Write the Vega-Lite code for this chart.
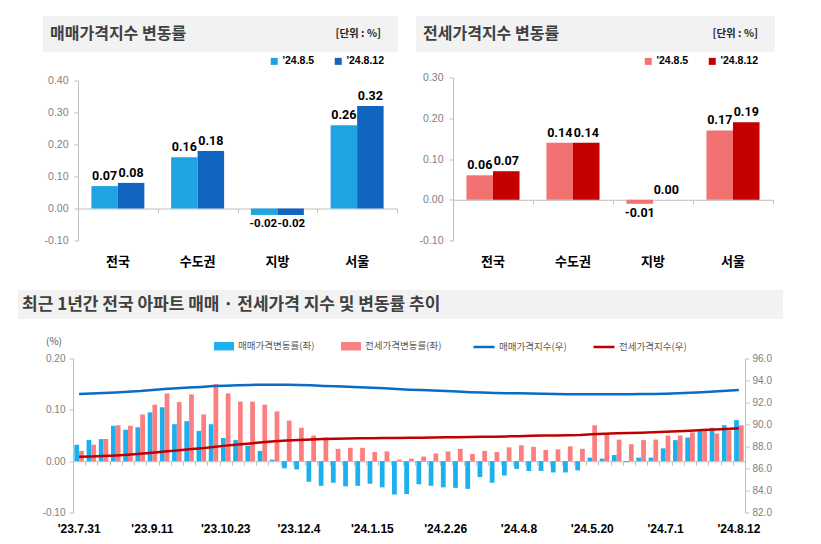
{
  "$schema": "https://vega.github.io/schema/vega-lite/v6.json",
  "padding": {"left": 18, "top": 16, "right": 0, "bottom": 0},
  "background": "white",
  "config": {
    "view": {"stroke": null},
    "font": "Noto Sans CJK KR",
    "locale": {"number": {"decimal": ".", "thousands": ",", "grouping": [3], "currency": ["", ""], "minus": "-"}},
    "axis": {"labelFont": "Liberation Sans", "titleFont": "Noto Sans CJK KR", "labelOverlap": false},
    "legend": {"padding": 0}
  },
  "datasets": {
    "tl": [
      {"region": "전국", "a": 0.07, "b": 0.08},
      {"region": "수도권", "a": 0.16, "b": 0.18},
      {"region": "지방", "a": -0.02, "b": -0.02},
      {"region": "서울", "a": 0.26, "b": 0.32}
    ],
    "tr": [
      {"region": "전국", "a": 0.06, "b": 0.07},
      {"region": "수도권", "a": 0.14, "b": 0.14},
      {"region": "지방", "a": -0.01, "b": 0.0},
      {"region": "서울", "a": 0.17, "b": 0.19}
    ],
    "wk": [
      {"w": "'23.7.31", "s": 0.032, "j": 0.020, "si": 92.78, "ji": 87.06},
      {"w": "'23.8.7", "s": 0.041, "j": 0.032, "si": 92.82, "ji": 87.09},
      {"w": "'23.8.14", "s": 0.043, "j": 0.043, "si": 92.86, "ji": 87.13},
      {"w": "'23.8.21", "s": 0.069, "j": 0.070, "si": 92.92, "ji": 87.19},
      {"w": "'23.8.28", "s": 0.061, "j": 0.069, "si": 92.98, "ji": 87.25},
      {"w": "'23.9.4", "s": 0.066, "j": 0.091, "si": 93.04, "ji": 87.33},
      {"w": "'23.9.11", "s": 0.095, "j": 0.110, "si": 93.13, "ji": 87.43},
      {"w": "'23.9.18", "s": 0.105, "j": 0.132, "si": 93.23, "ji": 87.54},
      {"w": "'23.9.25", "s": 0.072, "j": 0.115, "si": 93.30, "ji": 87.64},
      {"w": "'23.10.2", "s": 0.078, "j": 0.130, "si": 93.37, "ji": 87.75},
      {"w": "'23.10.9", "s": 0.059, "j": 0.091, "si": 93.42, "ji": 87.83},
      {"w": "'23.10.16", "s": 0.072, "j": 0.150, "si": 93.49, "ji": 87.96},
      {"w": "'23.10.23", "s": 0.045, "j": 0.132, "si": 93.53, "ji": 88.08},
      {"w": "'23.10.30", "s": 0.041, "j": 0.116, "si": 93.57, "ji": 88.18},
      {"w": "'23.11.6", "s": 0.030, "j": 0.116, "si": 93.60, "ji": 88.28},
      {"w": "'23.11.13", "s": 0.020, "j": 0.110, "si": 93.62, "ji": 88.38},
      {"w": "'23.11.20", "s": 0.003, "j": 0.097, "si": 93.62, "ji": 88.47},
      {"w": "'23.11.27", "s": -0.014, "j": 0.079, "si": 93.61, "ji": 88.54},
      {"w": "'23.12.4", "s": -0.016, "j": 0.065, "si": 93.59, "ji": 88.60},
      {"w": "'23.12.11", "s": -0.040, "j": 0.050, "si": 93.56, "ji": 88.64},
      {"w": "'23.12.18", "s": -0.048, "j": 0.046, "si": 93.51, "ji": 88.68},
      {"w": "'23.12.25", "s": -0.042, "j": 0.024, "si": 93.47, "ji": 88.70},
      {"w": "'24.1.1", "s": -0.049, "j": 0.026, "si": 93.43, "ji": 88.73},
      {"w": "'24.1.8", "s": -0.048, "j": 0.026, "si": 93.38, "ji": 88.75},
      {"w": "'24.1.15", "s": -0.044, "j": 0.018, "si": 93.34, "ji": 88.76},
      {"w": "'24.1.22", "s": -0.051, "j": 0.019, "si": 93.29, "ji": 88.78},
      {"w": "'24.1.29", "s": -0.065, "j": 0.003, "si": 93.23, "ji": 88.78},
      {"w": "'24.2.5", "s": -0.064, "j": 0.005, "si": 93.17, "ji": 88.79},
      {"w": "'24.2.12", "s": -0.045, "j": 0.009, "si": 93.13, "ji": 88.80},
      {"w": "'24.2.19", "s": -0.048, "j": 0.015, "si": 93.09, "ji": 88.81},
      {"w": "'24.2.26", "s": -0.051, "j": 0.019, "si": 93.04, "ji": 88.83},
      {"w": "'24.3.4", "s": -0.052, "j": 0.024, "si": 92.99, "ji": 88.85},
      {"w": "'24.3.11", "s": -0.054, "j": 0.014, "si": 92.94, "ji": 88.86},
      {"w": "'24.3.18", "s": -0.031, "j": 0.020, "si": 92.91, "ji": 88.88},
      {"w": "'24.3.25", "s": -0.042, "j": 0.018, "si": 92.87, "ji": 88.89},
      {"w": "'24.4.1", "s": -0.028, "j": 0.027, "si": 92.85, "ji": 88.92},
      {"w": "'24.4.8", "s": -0.015, "j": 0.031, "si": 92.83, "ji": 88.94},
      {"w": "'24.4.15", "s": -0.019, "j": 0.028, "si": 92.81, "ji": 88.97},
      {"w": "'24.4.22", "s": -0.019, "j": 0.022, "si": 92.80, "ji": 88.99},
      {"w": "'24.4.29", "s": -0.022, "j": 0.023, "si": 92.78, "ji": 89.01},
      {"w": "'24.5.6", "s": -0.022, "j": 0.029, "si": 92.76, "ji": 89.03},
      {"w": "'24.5.13", "s": -0.018, "j": 0.024, "si": 92.74, "ji": 89.05},
      {"w": "'24.5.20", "s": 0.007, "j": 0.070, "si": 92.75, "ji": 89.12},
      {"w": "'24.5.27", "s": 0.005, "j": 0.052, "si": 92.75, "ji": 89.16},
      {"w": "'24.6.3", "s": 0.012, "j": 0.042, "si": 92.76, "ji": 89.20},
      {"w": "'24.6.10", "s": -0.002, "j": 0.033, "si": 92.76, "ji": 89.23},
      {"w": "'24.6.17", "s": 0.007, "j": 0.041, "si": 92.77, "ji": 89.26},
      {"w": "'24.6.24", "s": 0.007, "j": 0.042, "si": 92.77, "ji": 89.30},
      {"w": "'24.7.1", "s": 0.025, "j": 0.050, "si": 92.80, "ji": 89.35},
      {"w": "'24.7.8", "s": 0.041, "j": 0.050, "si": 92.83, "ji": 89.39},
      {"w": "'24.7.15", "s": 0.046, "j": 0.056, "si": 92.88, "ji": 89.44},
      {"w": "'24.7.22", "s": 0.059, "j": 0.060, "si": 92.93, "ji": 89.49},
      {"w": "'24.7.29", "s": 0.065, "j": 0.054, "si": 92.99, "ji": 89.54},
      {"w": "'24.8.5", "s": 0.07, "j": 0.06, "si": 93.06, "ji": 89.60},
      {"w": "'24.8.12", "s": 0.08, "j": 0.07, "si": 93.13, "ji": 89.66}
    ]
  },
  "spacing": 21,
  "resolve": {"scale": {"color": "independent"}, "legend": {"color": "independent"}},
  "vconcat": [
    {
      "spacing": 18,
      "resolve": {"scale": {"color": "independent"}, "legend": {"color": "independent"}},
      "hconcat": [
        {"width": 7, "height": 10, "data": {"values": []}, "mark": "point"},
        {
          "spacing": 3.5,
          "resolve": {"scale": {"color": "independent"}, "legend": {"color": "independent"}},
          "vconcat": [
            {
              "width": 355, "height": 36,
              "view": {"fill": "#f2f2f2", "stroke": null},
              "data": {"values": [{"t": "매매가격지수 변동률", "u": "[단위 : %]"}]},
              "encoding": {
                "y": {"datum": 0.5, "type": "quantitative", "scale": {"domain": [0, 1]}, "axis": null}
              },
              "layer": [
                {
                  "mark": {"type": "text", "align": "left", "baseline": "middle", "dx": 7, "fontSize": 16, "fontWeight": "bold", "color": "#404040"},
                  "encoding": {
                    "x": {"datum": 0, "type": "quantitative", "scale": {"domain": [0, 1]}, "axis": null},
                    "text": {"field": "t"}
                  }
                },
                {
                  "mark": {"type": "text", "align": "right", "baseline": "middle", "dx": -17, "fontSize": 10.5, "fontWeight": "bold", "color": "#262626"},
                  "encoding": {
                    "x": {"datum": 1, "type": "quantitative", "scale": {"domain": [0, 1]}, "axis": null},
                    "text": {"field": "u"}
                  }
                }
              ]
            },
            {
              "width": 355, "height": 160,
              "data": {"name": "tl"},
              "layer": [
                {
                  "mark": {"type": "bar", "width": {"band": 0.332}, "xOffset": -13.25},
                  "encoding": {
                    "x": {
                      "field": "region", "type": "nominal", "sort": ["전국", "수도권", "지방", "서울"],
                      "scale": {"range": [35, 354], "paddingInner": 0, "paddingOuter": 0},
                      "axis": {"orient": "bottom", "title": null, "domain": false, "ticks": false, "labelAngle": 0, "labelFont": "Noto Sans CJK KR", "labelFontSize": 13, "labelFontWeight": "bold", "labelColor": "#000000", "labelPadding": 15}
                    },
                    "y": {
                      "field": "a", "type": "quantitative",
                      "scale": {"domain": [-0.1, 0.4], "nice": false},
                      "axis": {"title": null, "offset": -35, "values": [-0.1, 0, 0.1, 0.2, 0.3, 0.4], "format": ".2f", "grid": false, "domainColor": "#bfbfbf", "tickColor": "#bfbfbf", "tickSize": 4, "labelPadding": 6, "labelFontSize": 10.5, "labelColor": "#808080", "labelOverlap": false, "labelSeparation": 0}
                    },
                    "color": {
                      "datum": "'24.8.5",
                      "scale": {"domain": ["'24.8.5", "'24.8.12"], "range": ["#1ea4e3", "#1165c0"]},
                      "legend": {"orient": "none", "legendX": 226, "legendY": -24.5, "direction": "horizontal", "title": null, "symbolType": "square", "symbolSize": 49, "labelFont": "Liberation Sans", "labelFontSize": 10.5, "labelFontWeight": "bold", "labelColor": "#000000", "labelOffset": 3, "columnPadding": 18}
                    }
                  }
                },
                {
                  "mark": {"type": "bar", "width": {"band": 0.332}, "xOffset": 13.25},
                  "encoding": {
                    "x": {
                      "field": "region", "type": "nominal", "sort": ["전국", "수도권", "지방", "서울"],
                      "axis": {"orient": "bottom", "offset": -32, "labels": false, "title": null, "domain": true, "domainColor": "#bfbfbf", "ticks": true, "tickBand": "extent", "tickSize": 4, "tickColor": "#bfbfbf"}
                    },
                    "y": {
                      "field": "b", "type": "quantitative",
                      "axis": {"title": null, "offset": -35, "values": [-0.1, 0, 0.1, 0.2, 0.3, 0.4], "format": ".2f", "grid": false, "domainColor": "#bfbfbf", "tickColor": "#bfbfbf", "tickSize": 4, "labelPadding": 6, "labelFontSize": 10.5, "labelColor": "#808080", "labelOverlap": false, "labelSeparation": 0}
                    },
                    "color": {"datum": "'24.8.12"}
                  }
                },
                {
                  "transform": [{"filter": "datum.a >= 0"}],
                  "mark": {"type": "text", "baseline": "bottom", "dy": -3, "xOffset": -13.25, "font": "Roboto", "fontSize": 12.5, "fontWeight": "bold", "color": "#000000"},
                  "encoding": {
                    "x": {"field": "region", "type": "nominal", "sort": ["전국", "수도권", "지방", "서울"], "axis": null},
                    "y": {
                      "field": "a", "type": "quantitative",
                      "axis": {"title": null, "offset": -35, "values": [-0.1, 0, 0.1, 0.2, 0.3, 0.4], "format": ".2f", "grid": false, "domainColor": "#bfbfbf", "tickColor": "#bfbfbf", "tickSize": 4, "labelPadding": 6, "labelFontSize": 10.5, "labelColor": "#808080", "labelOverlap": false, "labelSeparation": 0}
                    },
                    "text": {"field": "a", "type": "quantitative", "format": ".2f"}
                  }
                },
                {
                  "transform": [{"filter": "datum.a < 0"}],
                  "mark": {"type": "text", "baseline": "top", "dy": 3, "xOffset": -14, "font": "Roboto", "fontSize": 11.5, "fontWeight": "bold", "color": "#000000"},
                  "encoding": {
                    "x": {"field": "region", "type": "nominal", "sort": ["전국", "수도권", "지방", "서울"], "axis": null},
                    "y": {
                      "field": "a", "type": "quantitative",
                      "axis": {"title": null, "offset": -35, "values": [-0.1, 0, 0.1, 0.2, 0.3, 0.4], "format": ".2f", "grid": false, "domainColor": "#bfbfbf", "tickColor": "#bfbfbf", "tickSize": 4, "labelPadding": 6, "labelFontSize": 10.5, "labelColor": "#808080", "labelOverlap": false, "labelSeparation": 0}
                    },
                    "text": {"field": "a", "type": "quantitative", "format": ".2f"}
                  }
                },
                {
                  "transform": [{"filter": "datum.b >= 0"}],
                  "mark": {"type": "text", "baseline": "bottom", "dy": -3, "xOffset": 13.25, "font": "Roboto", "fontSize": 12.5, "fontWeight": "bold", "color": "#000000"},
                  "encoding": {
                    "x": {"field": "region", "type": "nominal", "sort": ["전국", "수도권", "지방", "서울"], "axis": null},
                    "y": {
                      "field": "b", "type": "quantitative",
                      "axis": {"title": null, "offset": -35, "values": [-0.1, 0, 0.1, 0.2, 0.3, 0.4], "format": ".2f", "grid": false, "domainColor": "#bfbfbf", "tickColor": "#bfbfbf", "tickSize": 4, "labelPadding": 6, "labelFontSize": 10.5, "labelColor": "#808080", "labelOverlap": false, "labelSeparation": 0}
                    },
                    "text": {"field": "b", "type": "quantitative", "format": ".2f"}
                  }
                },
                {
                  "transform": [{"filter": "datum.b < 0"}],
                  "mark": {"type": "text", "baseline": "top", "dy": 3, "xOffset": 14, "font": "Roboto", "fontSize": 11.5, "fontWeight": "bold", "color": "#000000"},
                  "encoding": {
                    "x": {"field": "region", "type": "nominal", "sort": ["전국", "수도권", "지방", "서울"], "axis": null},
                    "y": {
                      "field": "b", "type": "quantitative",
                      "axis": {"title": null, "offset": -35, "values": [-0.1, 0, 0.1, 0.2, 0.3, 0.4], "format": ".2f", "grid": false, "domainColor": "#bfbfbf", "tickColor": "#bfbfbf", "tickSize": 4, "labelPadding": 6, "labelFontSize": 10.5, "labelColor": "#808080", "labelOverlap": false, "labelSeparation": 0}
                    },
                    "text": {"field": "b", "type": "quantitative", "format": ".2f"}
                  }
                }
              ],
              "resolve": {"axis": {"x": "independent"}}
            }
          ]
        },
        {
          "spacing": 3.5,
          "resolve": {"scale": {"color": "independent"}, "legend": {"color": "independent"}},
          "vconcat": [
            {
              "width": 359, "height": 36,
              "view": {"fill": "#f2f2f2", "stroke": null},
              "data": {"values": [{"t": "전세가격지수 변동률", "u": "[단위 : %]"}]},
              "encoding": {
                "y": {"datum": 0.5, "type": "quantitative", "scale": {"domain": [0, 1]}, "axis": null}
              },
              "layer": [
                {
                  "mark": {"type": "text", "align": "left", "baseline": "middle", "dx": 7, "fontSize": 16, "fontWeight": "bold", "color": "#404040"},
                  "encoding": {
                    "x": {"datum": 0, "type": "quantitative", "scale": {"domain": [0, 1]}, "axis": null},
                    "text": {"field": "t"}
                  }
                },
                {
                  "mark": {"type": "text", "align": "right", "baseline": "middle", "dx": -17, "fontSize": 10.5, "fontWeight": "bold", "color": "#262626"},
                  "encoding": {
                    "x": {"datum": 1, "type": "quantitative", "scale": {"domain": [0, 1]}, "axis": null},
                    "text": {"field": "u"}
                  }
                }
              ]
            },
            {
              "width": 359, "height": 163,
              "data": {"name": "tr"},
              "layer": [
                {
                  "mark": {"type": "bar", "width": {"band": 0.332}, "xOffset": -13.25},
                  "encoding": {
                    "x": {
                      "field": "region", "type": "nominal", "sort": ["전국", "수도권", "지방", "서울"],
                      "scale": {"range": [37, 357], "paddingInner": 0, "paddingOuter": 0},
                      "axis": {"orient": "bottom", "title": null, "domain": false, "ticks": false, "labelAngle": 0, "labelFont": "Noto Sans CJK KR", "labelFontSize": 13, "labelFontWeight": "bold", "labelColor": "#000000", "labelPadding": 15}
                    },
                    "y": {
                      "field": "a", "type": "quantitative",
                      "scale": {"domain": [-0.1, 0.3], "nice": false},
                      "axis": {"title": null, "offset": -37, "values": [-0.1, 0, 0.1, 0.2, 0.3], "format": ".2f", "grid": false, "domainColor": "#bfbfbf", "tickColor": "#bfbfbf", "tickSize": 4, "labelPadding": 6, "labelFontSize": 10.5, "labelColor": "#808080", "labelOverlap": false, "labelSeparation": 0}
                    },
                    "color": {
                      "datum": "'24.8.5",
                      "scale": {"domain": ["'24.8.5", "'24.8.12"], "range": ["#f27272", "#c40000"]},
                      "legend": {"orient": "none", "legendX": 227, "legendY": -21.5, "direction": "horizontal", "title": null, "symbolType": "square", "symbolSize": 49, "labelFont": "Liberation Sans", "labelFontSize": 10.5, "labelFontWeight": "bold", "labelColor": "#000000", "labelOffset": 3, "columnPadding": 18}
                    }
                  }
                },
                {
                  "mark": {"type": "bar", "width": {"band": 0.332}, "xOffset": 13.25},
                  "encoding": {
                    "x": {
                      "field": "region", "type": "nominal", "sort": ["전국", "수도권", "지방", "서울"],
                      "axis": {"orient": "bottom", "offset": -40.75, "labels": false, "title": null, "domain": true, "domainColor": "#bfbfbf", "ticks": true, "tickBand": "extent", "tickSize": 4, "tickColor": "#bfbfbf"}
                    },
                    "y": {
                      "field": "b", "type": "quantitative",
                      "axis": {"title": null, "offset": -37, "values": [-0.1, 0, 0.1, 0.2, 0.3], "format": ".2f", "grid": false, "domainColor": "#bfbfbf", "tickColor": "#bfbfbf", "tickSize": 4, "labelPadding": 6, "labelFontSize": 10.5, "labelColor": "#808080", "labelOverlap": false, "labelSeparation": 0}
                    },
                    "color": {"datum": "'24.8.12"}
                  }
                },
                {
                  "transform": [{"filter": "datum.a >= 0"}],
                  "mark": {"type": "text", "baseline": "bottom", "dy": -3, "xOffset": -13.25, "font": "Roboto", "fontSize": 12.5, "fontWeight": "bold", "color": "#000000"},
                  "encoding": {
                    "x": {"field": "region", "type": "nominal", "sort": ["전국", "수도권", "지방", "서울"], "axis": null},
                    "y": {
                      "field": "a", "type": "quantitative",
                      "axis": {"title": null, "offset": -37, "values": [-0.1, 0, 0.1, 0.2, 0.3], "format": ".2f", "grid": false, "domainColor": "#bfbfbf", "tickColor": "#bfbfbf", "tickSize": 4, "labelPadding": 6, "labelFontSize": 10.5, "labelColor": "#808080", "labelOverlap": false, "labelSeparation": 0}
                    },
                    "text": {"field": "a", "type": "quantitative", "format": ".2f"}
                  }
                },
                {
                  "transform": [{"filter": "datum.a < 0"}],
                  "mark": {"type": "text", "baseline": "top", "dy": 3, "xOffset": -13.25, "font": "Roboto", "fontSize": 12.5, "fontWeight": "bold", "color": "#000000"},
                  "encoding": {
                    "x": {"field": "region", "type": "nominal", "sort": ["전국", "수도권", "지방", "서울"], "axis": null},
                    "y": {
                      "field": "a", "type": "quantitative",
                      "axis": {"title": null, "offset": -37, "values": [-0.1, 0, 0.1, 0.2, 0.3], "format": ".2f", "grid": false, "domainColor": "#bfbfbf", "tickColor": "#bfbfbf", "tickSize": 4, "labelPadding": 6, "labelFontSize": 10.5, "labelColor": "#808080", "labelOverlap": false, "labelSeparation": 0}
                    },
                    "text": {"field": "a", "type": "quantitative", "format": ".2f"}
                  }
                },
                {
                  "transform": [{"filter": "datum.b >= 0"}],
                  "mark": {"type": "text", "baseline": "bottom", "dy": -3, "xOffset": 13.25, "font": "Roboto", "fontSize": 12.5, "fontWeight": "bold", "color": "#000000"},
                  "encoding": {
                    "x": {"field": "region", "type": "nominal", "sort": ["전국", "수도권", "지방", "서울"], "axis": null},
                    "y": {
                      "field": "b", "type": "quantitative",
                      "axis": {"title": null, "offset": -37, "values": [-0.1, 0, 0.1, 0.2, 0.3], "format": ".2f", "grid": false, "domainColor": "#bfbfbf", "tickColor": "#bfbfbf", "tickSize": 4, "labelPadding": 6, "labelFontSize": 10.5, "labelColor": "#808080", "labelOverlap": false, "labelSeparation": 0}
                    },
                    "text": {"field": "b", "type": "quantitative", "format": ".2f"}
                  }
                },
                {
                  "transform": [{"filter": "datum.b < 0"}],
                  "mark": {"type": "text", "baseline": "top", "dy": 3, "xOffset": 13.25, "font": "Roboto", "fontSize": 12.5, "fontWeight": "bold", "color": "#000000"},
                  "encoding": {
                    "x": {"field": "region", "type": "nominal", "sort": ["전국", "수도권", "지방", "서울"], "axis": null},
                    "y": {
                      "field": "b", "type": "quantitative",
                      "axis": {"title": null, "offset": -37, "values": [-0.1, 0, 0.1, 0.2, 0.3], "format": ".2f", "grid": false, "domainColor": "#bfbfbf", "tickColor": "#bfbfbf", "tickSize": 4, "labelPadding": 6, "labelFontSize": 10.5, "labelColor": "#808080", "labelOverlap": false, "labelSeparation": 0}
                    },
                    "text": {"field": "b", "type": "quantitative", "format": ".2f"}
                  }
                }
              ],
              "resolve": {"axis": {"x": "independent"}}
            }
          ]
        }
      ]
    },
    {
      "spacing": 15.5,
      "resolve": {"scale": {"color": "independent"}, "legend": {"color": "independent"}},
      "vconcat": [
        {
          "width": 765, "height": 29,
          "view": {"fill": "#f2f2f2", "stroke": null},
          "data": {"values": [{"t": "최근 1년간 전국 아파트 매매 · 전세가격 지수 및 변동률 추이"}]},
          "mark": {"type": "text", "align": "left", "baseline": "middle", "dx": 4, "fontSize": 17, "fontWeight": "bold", "color": "#404040"},
          "encoding": {
            "x": {"datum": 0, "type": "quantitative", "scale": {"domain": [0, 1]}, "axis": null},
            "y": {"datum": 0.5, "type": "quantitative", "scale": {"domain": [0, 1]}, "axis": null},
            "text": {"field": "t"}
          }
        },
        {
          "width": 727, "height": 154,
          "data": {"name": "wk"},
          "layer": [
            {
              "layer": [
                {
                  "mark": {"type": "bar", "width": {"band": 0.389}, "xOffset": -2.38},
                  "encoding": {
                    "x": {
                      "field": "w", "type": "nominal", "sort": null,
                      "scale": {"range": [55, 727], "paddingInner": 0, "paddingOuter": 0},
                      "axis": {"orient": "bottom", "title": null, "values": ["'23.7.31", "'23.9.11", "'23.10.23", "'23.12.4", "'24.1.15", "'24.2.26", "'24.4.8", "'24.5.20", "'24.7.1", "'24.8.12"], "domain": false, "ticks": false, "labelAngle": 0, "labelFontSize": 12, "labelFontWeight": "bold", "labelColor": "#000000", "labelPadding": 11}
                    },
                    "y": {
                      "field": "s", "type": "quantitative",
                      "scale": {"domain": [-0.1, 0.2], "nice": false},
                      "axis": {"orient": "left", "offset": -55, "values": [-0.1, 0, 0.1, 0.2], "format": ".2f", "grid": false, "domainColor": "#bfbfbf", "tickColor": "#bfbfbf", "tickSize": 4, "labelPadding": 4, "labelFontSize": 10, "labelColor": "#808080", "title": "(%)", "titleAngle": 0, "titleAlign": "center", "titleBaseline": "middle", "titleX": -19.5, "titleY": -17, "titleFontSize": 10, "titleFontWeight": "normal", "titleColor": "#595959"}
                    },
                    "color": {
                      "datum": "매매가격변동률(좌)",
                      "scale": {"domain": ["매매가격변동률(좌)", "전세가격변동률(좌)"], "range": ["#1cb1ee", "#fb7f80"]},
                      "legend": {"orient": "none", "legendX": 195, "legendY": -23.5, "direction": "horizontal", "title": null, "symbolType": "M-1,-0.42H1V0.42H-1Z", "symbolSize": 400, "labelFontSize": 9.5, "labelColor": "#595959", "labelOffset": 3, "columnPadding": 25}
                    }
                  }
                },
                {
                  "mark": {"type": "bar", "width": {"band": 0.389}, "xOffset": 2.38},
                  "encoding": {
                    "x": {
                      "field": "w", "type": "nominal", "sort": null,
                      "axis": {"orient": "bottom", "title": null, "values": ["'23.7.31", "'23.9.11", "'23.10.23", "'23.12.4", "'24.1.15", "'24.2.26", "'24.4.8", "'24.5.20", "'24.7.1", "'24.8.12"], "domain": false, "ticks": false, "labelAngle": 0, "labelFontSize": 12, "labelFontWeight": "bold", "labelColor": "#000000", "labelPadding": 11}
                    },
                    "y": {
                      "field": "j", "type": "quantitative",
                      "axis": {"orient": "left", "offset": -55, "values": [-0.1, 0, 0.1, 0.2], "format": ".2f", "grid": false, "domainColor": "#bfbfbf", "tickColor": "#bfbfbf", "tickSize": 4, "labelPadding": 4, "labelFontSize": 10, "labelColor": "#808080", "title": "(%)", "titleAngle": 0, "titleAlign": "center", "titleBaseline": "middle", "titleX": -19.5, "titleY": -17, "titleFontSize": 10, "titleFontWeight": "normal", "titleColor": "#595959"}
                    },
                    "color": {"datum": "전세가격변동률(좌)"}
                  }
                }
              ]
            },
            {
              "layer": [
                {
                  "mark": {"type": "line", "strokeWidth": 2.5},
                  "encoding": {
                    "x": {
                      "field": "w", "type": "nominal", "sort": null,
                      "axis": {"orient": "bottom", "offset": -51.3, "labels": false, "title": null, "domain": true, "domainColor": "#bfbfbf", "ticks": true, "tickBand": "extent", "tickSize": 4, "tickColor": "#bfbfbf"}
                    },
                    "y": {
                      "field": "si", "type": "quantitative",
                      "scale": {"domain": [82, 96], "nice": false, "zero": false},
                      "axis": {"orient": "right", "values": [82, 84, 86, 88, 90, 92, 94, 96], "format": ".1f", "grid": false, "domainColor": "#bfbfbf", "tickColor": "#bfbfbf", "tickSize": 4, "labelPadding": 3, "labelFontSize": 10, "labelColor": "#808080", "title": null}
                    },
                    "color": {
                      "datum": "매매가격지수(우)",
                      "scale": {"domain": ["매매가격지수(우)", "전세가격지수(우)"], "range": ["#0b6cc6", "#c00000"]},
                      "legend": {"orient": "none", "legendX": 454, "legendY": -23.5, "direction": "horizontal", "title": null, "symbolType": "stroke", "symbolSize": 441, "symbolStrokeWidth": 2.5, "labelFontSize": 9.5, "labelColor": "#595959", "labelOffset": 3, "columnPadding": 21}
                    }
                  }
                },
                {
                  "mark": {"type": "line", "strokeWidth": 2.5},
                  "encoding": {
                    "x": {
                      "field": "w", "type": "nominal", "sort": null,
                      "axis": {"orient": "bottom", "offset": -51.3, "labels": false, "title": null, "domain": true, "domainColor": "#bfbfbf", "ticks": true, "tickBand": "extent", "tickSize": 4, "tickColor": "#bfbfbf"}
                    },
                    "y": {
                      "field": "ji", "type": "quantitative",
                      "axis": {"orient": "right", "values": [82, 84, 86, 88, 90, 92, 94, 96], "format": ".1f", "grid": false, "domainColor": "#bfbfbf", "tickColor": "#bfbfbf", "tickSize": 4, "labelPadding": 3, "labelFontSize": 10, "labelColor": "#808080", "title": null}
                    },
                    "color": {"datum": "전세가격지수(우)"}
                  }
                }
              ]
            }
          ],
          "resolve": {"scale": {"y": "independent", "color": "independent"}, "axis": {"x": "independent"}}
        }
      ]
    }
  ]
}
